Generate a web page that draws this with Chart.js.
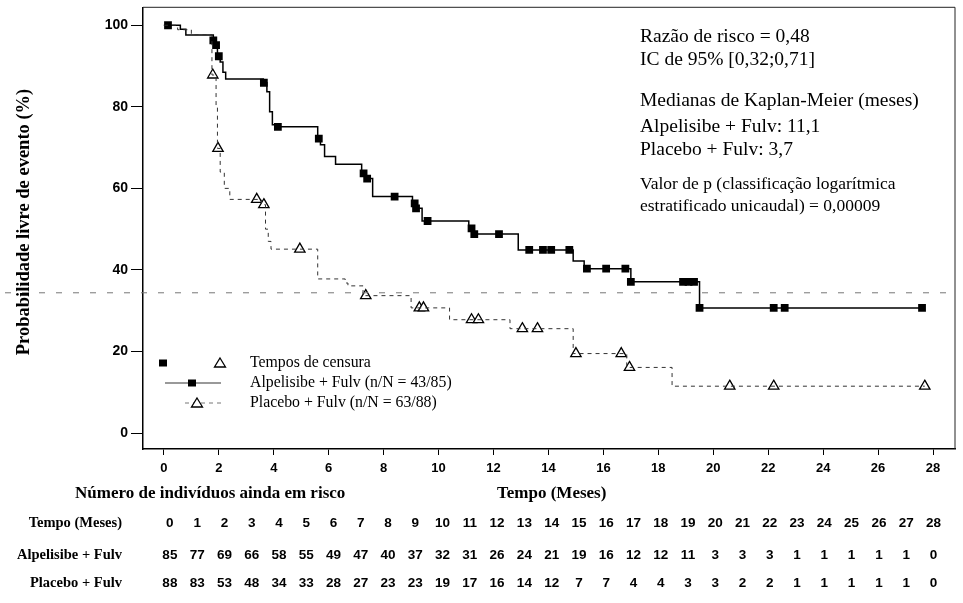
<!DOCTYPE html>
<html>
<head>
<meta charset="utf-8">
<script src="https://cdn.jsdelivr.net/npm/chart.js@4.4.0/dist/chart.umd.min.js"></script>
<style>
    html, body { margin: 0; padding: 0; background: #fff; overflow: hidden; }
    #wrap { width: 963px; height: 603px; position: relative; }
    canvas { display: block; }
</style>
</head>
<body>
<div id="wrap"><canvas id="km-chart"></canvas></div>
<script>
// Alpelisibe + Fulv: step times (months) and survival (%) after each step
const alpStepT = [0, 0.6, 0.8, 1.8, 1.9, 1.95, 2.05, 2.15, 2.25, 3.62, 3.75, 3.85, 3.95, 4.1, 5.6, 5.7, 5.85, 6.25, 7.2, 7.35, 7.6, 9.05, 9.15, 9.4, 11.1, 11.25, 12.9, 14.9, 15.3, 17.0, 19.5, 27.7];
const alpStepS = [100, 99, 97.6, 96.3, 95.1, 92.4, 91, 88.5, 86.8, 85.9, 83.7, 78.8, 75.6, 75.1, 72.2, 70.7, 67.8, 65.9, 63.7, 62.4, 58.0, 56.3, 55.1, 52.0, 50.2, 48.8, 44.9, 42.2, 40.3, 37.1, 30.7, 30.7];
// Alpelisibe censoring marks
const alpCensT = [0.15, 1.8, 1.9, 2.0, 3.64, 4.15, 5.64, 7.27, 7.4, 8.4, 9.13, 9.18, 9.6, 11.2, 11.3, 12.2, 13.3, 13.8, 14.1, 14.76, 15.4, 16.1, 16.8, 17.0, 18.9, 19.1, 19.3, 19.5, 22.2, 22.6, 27.6];
const alpCensS = [100, 96.3, 95.1, 92.4, 85.9, 75.1, 72.2, 63.7, 62.4, 58.0, 56.3, 55.1, 52.0, 50.2, 48.8, 48.8, 44.9, 44.9, 44.9, 44.9, 40.3, 40.3, 40.3, 37.1, 37.1, 37.1, 37.1, 30.7, 30.7, 30.7, 30.7];

// Placebo + Fulv
const plaStepT = [0, 0.5, 1.0, 1.75, 1.9, 1.95, 2.05, 2.2, 2.4, 3.55, 3.7, 3.8, 3.9, 5.6, 6.6, 6.7, 7.25, 9.0, 10.4, 12.6, 14.9, 16.85, 18.5, 27.7];
const plaStepS = [100, 98.9, 97.7, 87.8, 80, 69.8, 64, 60, 57.3, 56, 50, 47, 45.1, 37.8, 36.8, 36.1, 33.7, 30.7, 27.8, 25.6, 19.5, 16.1, 11.5, 11.5];
const plaCensT = [1.78, 1.97, 3.38, 3.64, 4.95, 7.35, 9.3, 9.45, 11.2, 11.45, 13.05, 13.6, 15.0, 16.65, 16.95, 20.6, 22.2, 27.7];
const plaCensS = [87.8, 69.8, 57.3, 56, 45.1, 33.7, 30.7, 30.7, 27.8, 27.8, 25.6, 25.6, 19.5, 19.5, 16.1, 11.5, 11.5, 11.5];

// Axis ticks
const xTicks = [0, 2, 4, 6, 8, 10, 12, 14, 16, 18, 20, 22, 24, 26, 28];
const yTicks = [0, 20, 40, 60, 80, 100];

// Number at risk table
const riskTimes = [0, 1, 2, 3, 4, 5, 6, 7, 8, 9, 10, 11, 12, 13, 14, 15, 16, 17, 18, 19, 20, 21, 22, 23, 24, 25, 26, 27, 28];
const riskAlp = [85, 77, 69, 66, 58, 55, 49, 47, 40, 37, 32, 31, 26, 24, 21, 19, 16, 12, 12, 11, 3, 3, 3, 1, 1, 1, 1, 1, 0];
const riskPla = [88, 83, 53, 48, 34, 33, 28, 27, 23, 23, 19, 17, 16, 14, 12, 7, 7, 4, 4, 3, 3, 2, 2, 1, 1, 1, 1, 1, 0];

// Text blocks
const statsLines = [
    'Razão de risco = 0,48',
    'IC de 95% [0,32;0,71]',
    'Medianas de Kaplan-Meier (meses)',
    'Alpelisibe + Fulv: 11,1',
    'Placebo + Fulv: 3,7',
    'Valor de p (classificação logarítmica',
    'estratificado unicaudal) = 0,00009'
];
const legendLabels = ['Tempos de censura', 'Alpelisibe + Fulv (n/N = 43/85)', 'Placebo + Fulv (n/N = 63/88)'];

function toPoints(xs, ys) {
    return xs.map((x, i) => ({ x: x, y: ys[i] }));
}

const SERIF = '"Liberation Serif", "DejaVu Serif", serif';
const SANS = '"Liberation Sans", Arial, sans-serif';

// Draw box, annotations, legend and risk table
const extrasPlugin = {
    id: 'extras',
    afterDraw(chart) {
        const ctx = chart.ctx;
        const area = chart.chartArea;
        const xs = chart.scales.x;
        const ys = chart.scales.y;
        ctx.save();

        // top/right frame
        ctx.strokeStyle = '#222';
        ctx.lineWidth = 1;
        ctx.beginPath();
        ctx.moveTo(area.left, area.top);
        ctx.lineTo(area.right, area.top);
        ctx.lineTo(area.right, area.bottom);
        ctx.stroke();

        // faint scan line across the page
        ctx.strokeStyle = '#777';
        ctx.setLineDash([6, 11]);
        const scanY = ys.getPixelForValue(34.4);
        ctx.beginPath();
        ctx.moveTo(5, scanY);
        ctx.lineTo(area.right - 4, scanY);
        ctx.stroke();
        ctx.setLineDash([]);

        // y axis title
        ctx.fillStyle = '#000';
        ctx.save();
        ctx.translate(24, 222);
        ctx.rotate(-Math.PI / 2);
        ctx.font = 'bold 18.5px ' + SERIF;
        ctx.textAlign = 'center';
        ctx.textBaseline = 'middle';
        ctx.fillText('Probabilidade livre de evento (%)', 0, 0);
        ctx.restore();

        // stats text
        ctx.textAlign = 'left';
        ctx.textBaseline = 'middle';
        const statY = [37, 60, 101, 127, 150, 184, 206];
        statsLines.forEach((t, i) => {
            ctx.font = (i >= 5 ? '17.5px ' : '19.5px ') + SERIF;
            ctx.fillText(t, 640, statY[i]);
        });

        // legend
        ctx.font = '15.8px ' + SERIF;
        const legY = [363, 383, 403];
        legendLabels.forEach((t, i) => ctx.fillText(t, 250, legY[i]));
        ctx.fillRect(159, legY[0] - 3.5, 8, 7);
        drawTriangle(ctx, 220, legY[0], 5);
        ctx.lineWidth = 1.5;
        ctx.beginPath();
        ctx.moveTo(165, legY[1]);
        ctx.lineTo(221, legY[1]);
        ctx.stroke();
        ctx.fillRect(188, legY[1] - 3.5, 8, 7);
        ctx.lineWidth = 1;
        ctx.setLineDash([4, 4]);
        ctx.beginPath();
        ctx.moveTo(185, legY[2]);
        ctx.lineTo(221, legY[2]);
        ctx.stroke();
        ctx.setLineDash([]);
        drawTriangle(ctx, 197, legY[2], 5);

        // risk table
        ctx.fillStyle = '#000';
        ctx.font = 'bold 17px ' + SERIF;
        ctx.textAlign = 'left';
        ctx.fillText('Número de indivíduos ainda em risco', 75, 494);
        ctx.fillText('Tempo (Meses)', 497, 494);

        const rowY = [523, 555, 583];
        ctx.font = 'bold 14.5px ' + SERIF;
        ctx.textAlign = 'right';
        ctx.fillText('Tempo (Meses)', 122, rowY[0]);
        ctx.fillText('Alpelisibe + Fulv', 122, rowY[1]);
        ctx.fillText('Placebo + Fulv', 122, rowY[2]);

        ctx.font = 'bold 13.5px ' + SANS;
        ctx.textAlign = 'center';
        riskTimes.forEach((t, i) => {
            const px = xs.getPixelForValue(t) + 6 - t * 0.2;
            ctx.fillText(String(t), px, rowY[0]);
            ctx.fillText(String(riskAlp[i]), px, rowY[1]);
            ctx.fillText(String(riskPla[i]), px, rowY[2]);
        });

        ctx.restore();
    }
};

function drawTriangle(ctx, x, y, r) {
    ctx.save();
    ctx.fillStyle = '#fff';
    ctx.strokeStyle = '#000';
    ctx.lineWidth = 1.3;
    ctx.beginPath();
    ctx.moveTo(x, y - r);
    ctx.lineTo(x + r * 1.1, y + r * 0.8);
    ctx.lineTo(x - r * 1.1, y + r * 0.8);
    ctx.closePath();
    ctx.fill();
    ctx.stroke();
    ctx.restore();
}

document.addEventListener('DOMContentLoaded', function() {
    const canvas = document.getElementById('km-chart');
    canvas.width = 963;
    canvas.height = 603;

    new Chart(canvas.getContext('2d'), {
        type: 'scatter',
        data: {
            datasets: [{
                label: 'Placebo + Fulv',
                data: toPoints(plaStepT, plaStepS),
                showLine: true,
                stepped: true,
                borderColor: '#333',
                borderWidth: 1,
                borderDash: [4, 4],
                pointRadius: 0
            }, {
                label: 'Alpelisibe + Fulv',
                data: toPoints(alpStepT, alpStepS),
                showLine: true,
                stepped: true,
                borderColor: '#000',
                borderWidth: 1.5,
                pointRadius: 0
            }, {
                label: 'Placebo censura',
                data: toPoints(plaCensT, plaCensS),
                pointStyle: 'triangle',
                pointRadius: 6,
                backgroundColor: '#fff',
                borderColor: '#000',
                borderWidth: 1.3
            }, {
                label: 'Alpelisibe censura',
                data: toPoints(alpCensT, alpCensS),
                pointStyle: 'rect',
                pointRadius: 5.5,
                backgroundColor: '#000',
                borderColor: '#000',
                borderWidth: 0
            }]
        },
        options: {
            responsive: false,
            animation: false,
            layout: { padding: { top: 5, right: 8, left: 0, bottom: 0 } },
            plugins: {
                legend: { display: false },
                tooltip: { enabled: false }
            },
            scales: {
                x: {
                    type: 'linear',
                    min: -0.76,
                    max: 28.8,
                    afterBuildTicks: axis => { axis.ticks = xTicks.map(v => ({ value: v })); },
                    afterFit: axis => {
                        axis.height = 154;
                        axis.paddingLeft = 0;
                        axis.paddingRight = 0;
                    },
                    ticks: {
                        color: '#000',
                        padding: 6,
                        font: { family: SANS, size: 13, weight: 'bold' },
                        maxRotation: 0
                    },
                    grid: { drawOnChartArea: false, drawTicks: true, tickLength: 6, color: '#000' },
                    border: { display: true, color: '#000', width: 1.5 }
                },
                y: {
                    min: -3.9,
                    max: 104.4,
                    afterBuildTicks: axis => { axis.ticks = yTicks.map(v => ({ value: v })); },
                    afterFit: axis => {
                        axis.width = 143;
                        axis.paddingTop = 0;
                        axis.paddingBottom = 0;
                    },
                    ticks: {
                        color: '#000',
                        padding: 3,
                        font: { family: SANS, size: 14, weight: 'bold' }
                    },
                    grid: { drawOnChartArea: false, drawTicks: true, tickLength: 12, color: '#000' },
                    border: { display: true, color: '#000', width: 1.5 }
                }
            }
        },
        plugins: [extrasPlugin]
    });
});
</script>
</body>
</html>
